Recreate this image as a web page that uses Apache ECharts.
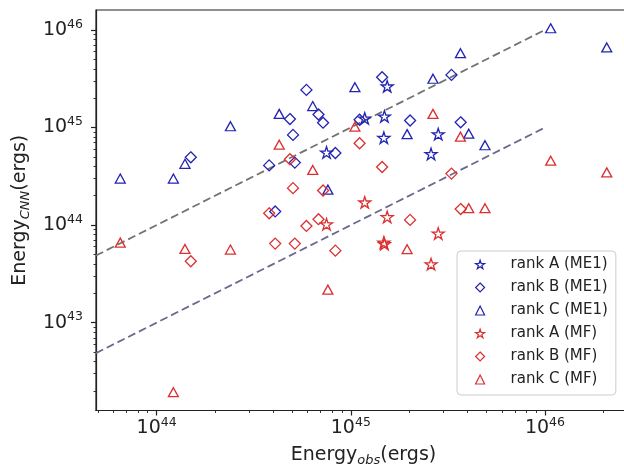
<!DOCTYPE html>
<html>
<head>
<meta charset="utf-8">
<script src="https://cdn.jsdelivr.net/npm/echarts@6/dist/echarts.min.js"></script>
<style>
html, body { margin: 0; padding: 0; background: #fff; }
#chart { width: 624px; height: 470px; }
</style>
</head>
<body>
<div id="chart"></div>
<script>
// rank A events (stars), same events for both methods
var xA = [7.5e44, 1.18e45, 1.49e45, 1.54e45, 1.48e45, 2.82e45, 2.59e45];
var yA_ME1 = [5.55e44, 1.24e45, 1.30e45, 2.64e45, 7.85e44, 8.55e44, 5.36e44];
var yA_MF = [1.02e44, 1.71e44, 6.41e43, 1.21e44, 6.64e43, 8.20e43, 3.98e43];

// rank B events (diamonds)
var xB = [1.50e44, 3.80e44, 4.08e44, 4.86e44, 5.04e44, 5.15e44, 5.91e44, 6.82e44,
          7.2e44, 8.33e44, 1.11e45, 1.45e45, 2.02e45, 3.30e45, 3.68e45];
var yB_ME1 = [4.95e44, 4.09e44, 1.38e44, 1.22e45, 8.40e44, 4.37e44, 2.43e45, 1.36e45,
              1.12e45, 5.48e44, 1.20e45, 3.27e45, 1.18e45, 3.46e45, 1.13e45];
var yB_MF = [4.26e43, 1.32e44, 6.46e43, 4.73e44, 2.39e44, 6.46e43, 9.8e43, 1.15e44,
             2.26e44, 5.47e43, 6.90e44, 3.94e44, 1.13e44, 3.37e44, 1.46e44];

// rank C events (triangles)
var xC = [6.5e43, 1.22e44, 1.40e44, 2.40e44, 4.28e44, 6.37e44, 1.05e45, 2.65e45,
          3.67e45, 1.07e46, 2.08e46, 1.95e45, 4.05e45, 4.91e45, 7.62e44];
var yC_ME1 = [3.0e44, 3.0e44, 4.25e44, 1.03e45, 1.38e45, 1.66e45, 2.59e45, 3.16e45,
              5.77e45, 1.04e46, 6.62e45, 8.55e44, 8.65e44, 6.58e44, 2.31e44];
var yC_MF = [6.61e43, 1.94e42, 5.69e43, 5.62e43, 6.67e44, 3.67e44, 1.02e45, 1.38e45,
             8.06e44, 4.57e44, 3.47e44, 5.66e43, 1.49e44, 1.49e44, 2.18e43];

// dashed reference lines (y = x and y = x/10)
var refX = [4.875e43, 1e46];
var refUpper = [4.875e43, 1e46];
var refLower = [4.875e42, 1e45];

// axes
var xRange = [4.875e43, 2.773e46];
var yRange = [1.259e42, 1.60e46];
var xMajor = [1e44, 1e45, 1e46];
var yMajor = [1e43, 1e44, 1e45, 1e46];
var names = ['rank A (ME1)', 'rank B (ME1)', 'rank C (ME1)', 'rank A (MF)', 'rank B (MF)', 'rank C (MF)'];

function minorTicks(range) {
  var out = [];
  for (var e = 40; e <= 47; e++) {
    for (var m = 2; m <= 9; m++) {
      var v = m * Math.pow(10, e);
      if (v > range[0] && v < range[1]) out.push(v);
    }
  }
  return out;
}
function zip(xs, ys) {
  return xs.map(function (x, i) { return [x, ys[i]]; });
}

var BLUE = '#2323b4';
var RED = '#dc3030';
var FONT = 'DejaVu Sans';
var STAR = 'path://M0,-100L22.45,-30.9L95.1,-30.9L36.3,11.8L58.8,80.9L0,38.2L-58.8,80.9L-36.3,11.8L-95.1,-30.9L-22.45,-30.9Z';

var tickRich = {
  b: { fontSize: 19, lineHeight: 24, verticalAlign: 'middle', color: '#222', fontFamily: FONT },
  s: { fontSize: 12.5, lineHeight: 13, verticalAlign: 'top', color: '#222', fontFamily: FONT }
};
var nameRich = {
  m: { fontSize: 19, lineHeight: 24, verticalAlign: 'middle', color: '#222', fontFamily: FONT },
  s: { fontSize: 13, lineHeight: 13, verticalAlign: 'bottom', fontStyle: 'italic', color: '#222', fontFamily: FONT }
};
function powLabel(v) {
  return '{b|10}{s|' + Math.round(Math.log10(v)) + '}';
}
var axisColor = { color: '#222', width: 1.2 };

function markerSeries(name, xs, ys, symbol, size, color) {
  return {
    name: name,
    type: 'scatter',
    data: zip(xs, ys),
    symbol: symbol,
    symbolSize: size,
    itemStyle: { color: 'rgba(255,255,255,0)', borderColor: color, borderWidth: 1.3, opacity: 1 },
    z: 3
  };
}
function refSeries(ys, color) {
  return {
    type: 'line',
    data: zip(refX, ys),
    showSymbol: false,
    silent: true,
    lineStyle: { color: color, width: 1.8, type: [8, 4] },
    z: 2
  };
}

var myChart = echarts.init(document.getElementById('chart'), null, { renderer: 'canvas' });

option = {
  animation: false,
  grid: {
    left: 96, top: 10, width: 535, height: 400.5,
    outerBoundsMode: 'none',
    containLabel: false,
    show: true, borderColor: '#222', borderWidth: 1.2, backgroundColor: 'transparent'
  },
  legend: {
    data: names,
    orient: 'vertical',
    left: 457, top: 251,
    itemWidth: 9, itemHeight: 9, itemGap: 8,
    padding: [6, 8, 8, 18],
    backgroundColor: 'rgba(255,255,255,0.85)',
    borderColor: '#cccccc', borderWidth: 1, borderRadius: 4,
    selectedMode: false,
    itemStyle: { color: 'rgba(255,255,255,0)', borderWidth: 1.2, opacity: 1 },
    formatter: function (n) { return '{t|' + n + '}'; },
    textStyle: {
      rich: { t: { fontSize: 15, lineHeight: 16, padding: [0, 0, 0, 21], color: '#222', fontFamily: FONT } }
    }
  },
  xAxis: [
    {
      type: 'log', min: xRange[0], max: xRange[1], position: 'bottom',
      axisLine: { show: true, onZero: false, lineStyle: axisColor },
      axisTick: { show: true, length: 5, customValues: xMajor, lineStyle: axisColor },
      axisLabel: { customValues: xMajor, margin: 6, formatter: powLabel, rich: tickRich },
      splitLine: { show: false },
      name: '{m|Energy}{s|obs}{m|(ergs)}',
      nameLocation: 'middle', nameGap: 33,
      nameTextStyle: { rich: nameRich }
    },
    {
      type: 'log', min: xRange[0], max: xRange[1], position: 'bottom',
      axisLine: { show: false },
      axisTick: { show: true, length: 2.5, customValues: minorTicks(xRange), lineStyle: { color: '#222', width: 0.9 } },
      axisLabel: { show: false },
      splitLine: { show: false }
    }
  ],
  yAxis: [
    {
      type: 'log', min: yRange[0], max: yRange[1], position: 'left',
      axisLine: { show: true, onZero: false, lineStyle: axisColor },
      axisTick: { show: true, length: 5, customValues: yMajor, lineStyle: axisColor },
      axisLabel: { customValues: yMajor, margin: 13, formatter: powLabel, rich: tickRich },
      splitLine: { show: false },
      name: '{m|Energy}{s|CNN}{m|(ergs)}',
      nameLocation: 'middle', nameGap: 64, nameRotate: 90,
      nameTextStyle: { rich: nameRich }
    },
    {
      type: 'log', min: yRange[0], max: yRange[1], position: 'left',
      axisLine: { show: false },
      axisTick: { show: true, length: 2.5, customValues: minorTicks(yRange), lineStyle: { color: '#222', width: 0.9 } },
      axisLabel: { show: false },
      splitLine: { show: false }
    }
  ],
  series: [
    refSeries(refUpper, '#737373'),
    refSeries(refLower, '#6a6a90'),
    markerSeries(names[0], xA, yA_ME1, STAR, [12, 11.5], BLUE),
    markerSeries(names[1], xB, yB_ME1, 'diamond', [11, 11], BLUE),
    markerSeries(names[2], xC, yC_ME1, 'triangle', [10, 9], BLUE),
    markerSeries(names[3], xA, yA_MF, STAR, [12, 11.5], RED),
    markerSeries(names[4], xB, yB_MF, 'diamond', [11, 11], RED),
    markerSeries(names[5], xC, yC_MF, 'triangle', [10, 9], RED)
  ]
};

myChart.setOption(option);
</script>
</body>
</html>
